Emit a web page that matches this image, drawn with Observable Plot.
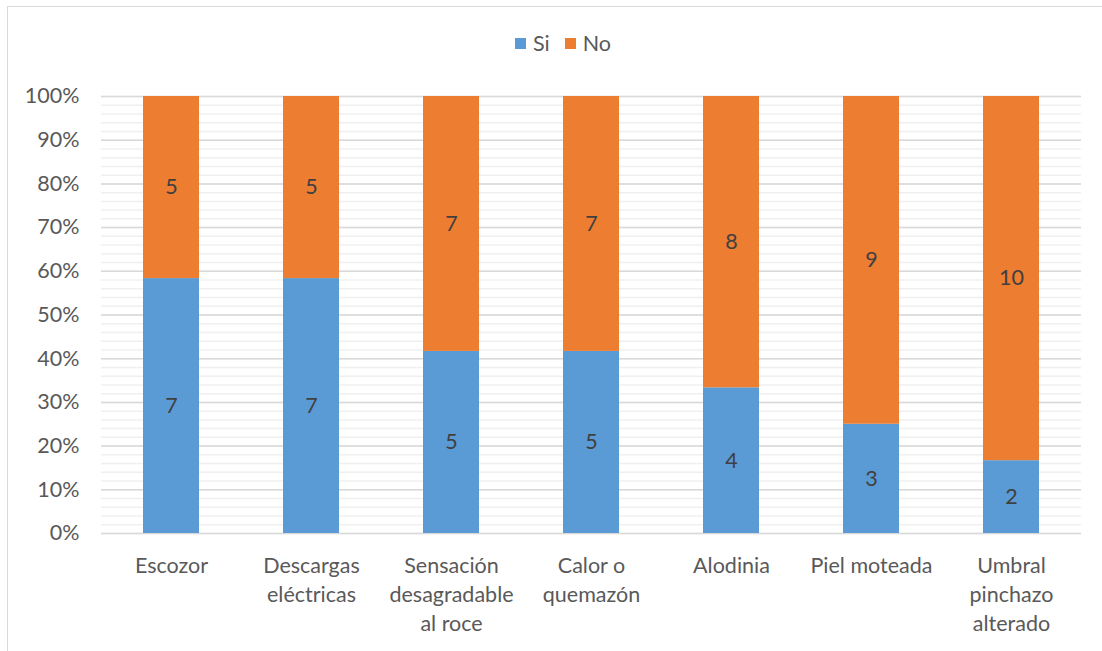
<!DOCTYPE html>
<html>
<head>
<meta charset="utf-8">
<script src="https://cdn.jsdelivr.net/npm/d3@7"></script>
<script src="https://cdn.jsdelivr.net/npm/@observablehq/plot@0.6"></script>
<style>
  html, body { margin: 0; padding: 0; background: #fff; }
  #wrap { position: relative; width: 1102px; height: 651px; overflow: hidden; font-family: Lato, "Open Sans", sans-serif; }
  #frame { position: absolute; left: 7px; top: 6px; width: 1200px; height: 700px; border-left: 1.5px solid #d9d9d9; border-top: 1.5px solid #d9d9d9; box-sizing: border-box; }
  #legend { position: absolute; top: 30px; left: 515px; display: flex; gap: 15px; font-size: 21.5px; color: #595959; }
  #legend span.item { display: flex; align-items: center; gap: 7px; }
  #legend span.sw { width: 11px; height: 11px; display: inline-block; }
  #chart { position: absolute; left: 0; top: 0; }
</style>
</head>
<body>
<div id="wrap">
  <div id="frame"></div>
  <div id="chart"></div>
  <div id="legend"></div>
</div>
<script>
// Symptom categories (x-axis labels, line breaks included)
const categories = [
  "Escozor",
  "Descargas\neléctricas",
  "Sensación\ndesagradable\nal roce",
  "Calor o\nquemazón",
  "Alodinia",
  "Piel moteada",
  "Umbral\npinchazo\nalterado"
];
// Counts of each answer per symptom
const siValues = [7, 7, 5, 5, 4, 3, 2];
const noValues = [5, 5, 7, 7, 8, 9, 10];
const answers = ["Si", "No"];
const colors = ["#5b9bd5", "#ed7d31"];

// Long table for the stacked bars
const data = [];
categories.forEach((c, i) => {
  data.push({cat: c, answer: "Si", n: siValues[i]});
  data.push({cat: c, answer: "No", n: noValues[i]});
});

const minorTicks = d3.range(0, 101, 2).map(d => d / 100);
const majorTicks = d3.range(0, 11).map(d => d / 10);

const chart = Plot.plot({
  width: 1102,
  height: 651,
  marginTop: 96,
  marginBottom: 118,
  marginLeft: 101,
  marginRight: 21,
  style: {fontFamily: "Lato, 'Open Sans', sans-serif", fontSize: "21.5px", color: "#595959", background: "transparent"},
  x: {domain: categories, paddingInner: 0.6, paddingOuter: 0.3, label: null},
  y: {domain: [0, 1], label: null},
  color: {domain: answers, range: colors},
  marks: [
    Plot.ruleY(minorTicks, {stroke: "#f0f0f0", strokeWidth: 1.5}),
    Plot.ruleY(majorTicks, {stroke: "#d9d9d9", strokeWidth: 1.5}),
    Plot.barY(data, Plot.stackY({x: "cat", y: "n", fill: "answer", offset: "normalize"})),
    Plot.text(data, Plot.stackY({x: "cat", y: "n", z: "answer", offset: "normalize", text: "n", fill: "#404040", fontSize: 21.5})),
    Plot.axisY({ticks: majorTicks, tickFormat: d3.format(".0%"), tickSize: 0, tickPadding: 22, fill: "#595959"}),
    Plot.axisX({tickSize: 0, tickPadding: 19, lineHeight: 1.35, fill: "#595959"})
  ]
});
document.getElementById("chart").appendChild(chart);

// Legend row above the plot area
const legend = document.getElementById("legend");
answers.forEach((a, i) => {
  const item = document.createElement("span");
  item.className = "item";
  const sw = document.createElement("span");
  sw.className = "sw";
  sw.style.background = colors[i];
  item.appendChild(sw);
  item.appendChild(document.createTextNode(a));
  legend.appendChild(item);
});
</script>
</body>
</html>
